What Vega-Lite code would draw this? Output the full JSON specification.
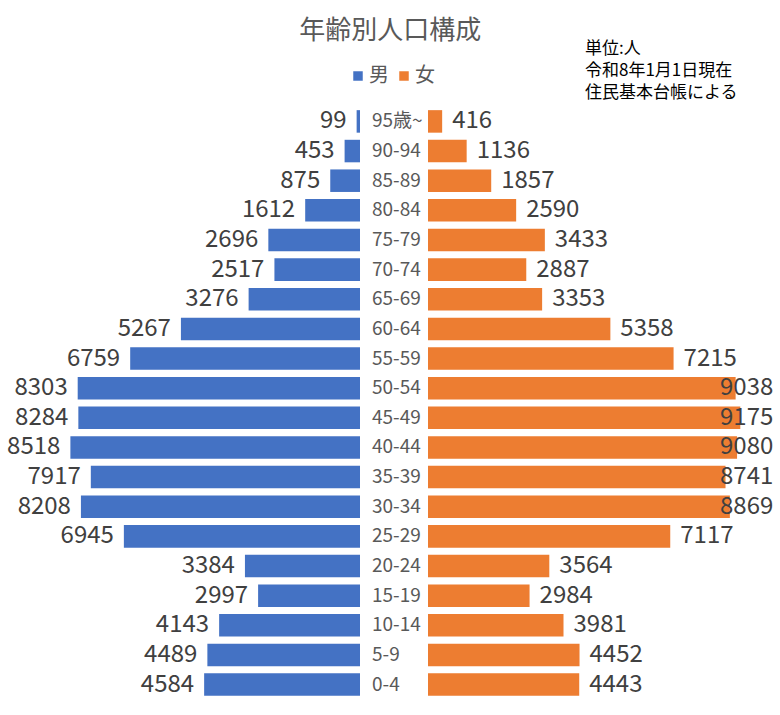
{
  "$schema": "https://vega.github.io/schema/vega-lite/v6.json",
  "padding": {"left": 7, "top": 18, "right": 5, "bottom": 14},
  "title": {
    "text": "年齢別人口構成",
    "font": "Noto Sans CJK JP",
    "fontSize": 26,
    "fontWeight": "normal",
    "color": "#595959",
    "anchor": "middle",
    "offset": -4
  },
  "data": {
    "values": [
      {"age": "95歳~", "sex": "男", "count": 99},
      {"age": "90-94", "sex": "男", "count": 453},
      {"age": "85-89", "sex": "男", "count": 875},
      {"age": "80-84", "sex": "男", "count": 1612},
      {"age": "75-79", "sex": "男", "count": 2696},
      {"age": "70-74", "sex": "男", "count": 2517},
      {"age": "65-69", "sex": "男", "count": 3276},
      {"age": "60-64", "sex": "男", "count": 5267},
      {"age": "55-59", "sex": "男", "count": 6759},
      {"age": "50-54", "sex": "男", "count": 8303},
      {"age": "45-49", "sex": "男", "count": 8284},
      {"age": "40-44", "sex": "男", "count": 8518},
      {"age": "35-39", "sex": "男", "count": 7917},
      {"age": "30-34", "sex": "男", "count": 8208},
      {"age": "25-29", "sex": "男", "count": 6945},
      {"age": "20-24", "sex": "男", "count": 3384},
      {"age": "15-19", "sex": "男", "count": 2997},
      {"age": "10-14", "sex": "男", "count": 4143},
      {"age": "5-9", "sex": "男", "count": 4489},
      {"age": "0-4", "sex": "男", "count": 4584},
      {"age": "95歳~", "sex": "女", "count": 416},
      {"age": "90-94", "sex": "女", "count": 1136},
      {"age": "85-89", "sex": "女", "count": 1857},
      {"age": "80-84", "sex": "女", "count": 2590},
      {"age": "75-79", "sex": "女", "count": 3433},
      {"age": "70-74", "sex": "女", "count": 2887},
      {"age": "65-69", "sex": "女", "count": 3353},
      {"age": "60-64", "sex": "女", "count": 5358},
      {"age": "55-59", "sex": "女", "count": 7215},
      {"age": "50-54", "sex": "女", "count": 9038},
      {"age": "45-49", "sex": "女", "count": 9175},
      {"age": "40-44", "sex": "女", "count": 9080},
      {"age": "35-39", "sex": "女", "count": 8741},
      {"age": "30-34", "sex": "女", "count": 8869},
      {"age": "25-29", "sex": "女", "count": 7117},
      {"age": "20-24", "sex": "女", "count": 3564},
      {"age": "15-19", "sex": "女", "count": 2984},
      {"age": "10-14", "sex": "女", "count": 3981},
      {"age": "5-9", "sex": "女", "count": 4452},
      {"age": "0-4", "sex": "女", "count": 4443}
    ]
  },
  "spacing": 0,
  "hconcat": [
    {
      "width": 408,
      "height": 594,
      "transform": [{"filter": "datum.sex === '男'"}],
      "encoding": {
        "y": {
          "field": "age",
          "type": "ordinal",
          "sort": null,
          "axis": null,
          "scale": {"paddingInner": 0.24, "paddingOuter": 0.14}
        }
      },
      "layer": [
        {
          "mark": {"type": "bar"},
          "encoding": {
            "x": {
              "field": "count",
              "type": "quantitative",
              "axis": null,
              "scale": {"domain": [-1994, 10000], "reverse": true}
            },
            "color": {
              "field": "sex",
              "type": "nominal",
              "scale": {"domain": ["男", "女"], "range": ["#4472C4", "#ED7D31"]},
              "legend": {
                "orient": "none",
                "legendX": 328,
                "legendY": -40,
                "direction": "horizontal",
                "title": null,
                "symbolType": "square",
                "symbolSize": 90,
                "symbolStrokeWidth": 0,
                "labelFont": "Noto Sans CJK JP",
                "labelFontSize": 20,
                "labelColor": "#595959",
                "labelOffset": 1,
                "columnPadding": 5
              }
            }
          }
        },
        {
          "mark": {
            "type": "text",
            "align": "right",
            "baseline": "middle",
            "dx": -10,
            "font": "Noto Sans CJK JP",
            "fontSize": 24,
            "color": "#404040"
          },
          "encoding": {
            "x": {"field": "count", "type": "quantitative"},
            "text": {"field": "count", "type": "quantitative", "format": "d"}
          }
        },
        {
          "mark": {
            "type": "text",
            "align": "left",
            "baseline": "middle",
            "dx": 12,
            "font": "Noto Sans CJK JP",
            "fontSize": 19,
            "color": "#595959"
          },
          "encoding": {
            "x": {"datum": 0},
            "text": {"field": "age"}
          }
        },
        {
          "mark": {"type": "rule", "color": "#BFBFBF", "strokeWidth": 1},
          "encoding": {"x": {"datum": 0}}
        }
      ]
    },
    {
      "width": 282,
      "height": 594,
      "title": {
        "text": ["単位:人", "令和8年1月1日現在", "住民基本台帳による"],
        "anchor": "start",
        "align": "left",
        "dx": 157,
        "offset": 4,
        "font": "Noto Sans CJK JP",
        "fontSize": 17,
        "fontWeight": "normal",
        "lineHeight": 22,
        "color": "#000000"
      },
      "transform": [{"filter": "datum.sex === '女'"}],
      "encoding": {
        "y": {
          "field": "age",
          "type": "ordinal",
          "sort": null,
          "axis": null,
          "scale": {"paddingInner": 0.24, "paddingOuter": 0.14}
        }
      },
      "layer": [
        {
          "mark": {"type": "bar"},
          "encoding": {
            "x": {
              "field": "count",
              "type": "quantitative",
              "axis": null,
              "scale": {"domain": [0, 8285]}
            },
            "color": {"field": "sex", "type": "nominal"}
          }
        },
        {
          "mark": {
            "type": "text",
            "align": "left",
            "baseline": "middle",
            "dx": 10,
            "font": "Noto Sans CJK JP",
            "fontSize": 24,
            "color": "#404040"
          },
          "encoding": {
            "x": {
              "field": "count",
              "type": "quantitative",
              "axis": null,
              "scale": {"domain": [0, 8285], "clamp": true}
            },
            "text": {"field": "count", "type": "quantitative", "format": "d"}
          }
        }
      ],
      "resolve": {"scale": {"x": "independent"}}
    }
  ],
  "config": {
    "view": {"stroke": null},
    "background": "#ffffff"
  }
}
